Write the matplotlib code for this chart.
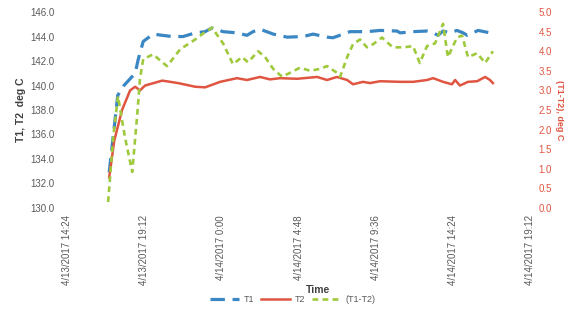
import matplotlib
matplotlib.use("Agg")
import matplotlib.pyplot as plt
import pandas as pd

plt.rcParams["font.family"] = ["Liberation Sans", "DejaVu Sans"]

# T1 readings (deg C)
t1_times = [
    "2017-04-13 17:01", "2017-04-13 17:33", "2017-04-13 17:56", "2017-04-13 18:38",
    "2017-04-13 18:49", "2017-04-13 19:08", "2017-04-13 19:45", "2017-04-13 20:19",
    "2017-04-13 20:56", "2017-04-13 21:37", "2017-04-13 22:22", "2017-04-13 22:59",
    "2017-04-13 23:25", "2017-04-14 00:06", "2017-04-14 00:58", "2017-04-14 01:35",
    "2017-04-14 01:58", "2017-04-14 02:24", "2017-04-14 03:13", "2017-04-14 04:05",
    "2017-04-14 05:05", "2017-04-14 05:42", "2017-04-14 06:34", "2017-04-14 06:56",
    "2017-04-14 08:00", "2017-04-14 09:03", "2017-04-14 09:52", "2017-04-14 10:55",
    "2017-04-14 11:07", "2017-04-14 11:55", "2017-04-14 12:47", "2017-04-14 13:10",
    "2017-04-14 13:28", "2017-04-14 13:47", "2017-04-14 14:13", "2017-04-14 14:39",
    "2017-04-14 15:02", "2017-04-14 15:17", "2017-04-14 15:58", "2017-04-14 16:42",
    "2017-04-14 16:53",
]
t1_values = [
    132.9, 139.2, 140.0, 141.0, 142.1, 143.6, 144.2, 144.1,
    144.0, 144.0, 144.3, 144.4, 144.7, 144.4, 144.3, 144.1,
    144.4, 144.6, 144.2, 143.95, 144.0, 144.2, 143.95, 143.9,
    144.4, 144.4, 144.5, 144.45, 144.3, 144.4, 144.45, 144.3,
    144.1, 144.45, 144.3, 144.5, 144.3, 144.1, 144.5, 144.3,
    144.25,
]

# T2 readings (deg C)
t2_times = [
    "2017-04-13 17:01", "2017-04-13 17:20", "2017-04-13 17:49", "2017-04-13 18:19",
    "2017-04-13 18:38", "2017-04-13 18:56", "2017-04-13 19:15", "2017-04-13 20:19",
    "2017-04-13 21:18", "2017-04-13 22:22", "2017-04-13 22:59", "2017-04-13 23:55",
    "2017-04-14 00:58", "2017-04-14 01:35", "2017-04-14 02:24", "2017-04-14 03:01",
    "2017-04-14 03:39", "2017-04-14 04:42", "2017-04-14 05:57", "2017-04-14 06:34",
    "2017-04-14 07:11", "2017-04-14 07:49", "2017-04-14 08:11", "2017-04-14 08:48",
    "2017-04-14 09:14", "2017-04-14 09:52", "2017-04-14 11:07", "2017-04-14 11:55",
    "2017-04-14 12:47", "2017-04-14 13:10", "2017-04-14 13:47", "2017-04-14 14:20",
    "2017-04-14 14:32", "2017-04-14 14:50", "2017-04-14 15:20", "2017-04-14 15:54",
    "2017-04-14 16:24", "2017-04-14 16:42", "2017-04-14 16:53",
]
t2_values = [
    132.5, 135.5, 138.0, 139.6, 139.9, 139.6, 140.0, 140.4,
    140.2, 139.9, 139.85, 140.3, 140.6, 140.45, 140.7, 140.5,
    140.6, 140.55, 140.7, 140.45, 140.7, 140.45, 140.1, 140.3,
    140.2, 140.35, 140.3, 140.3, 140.45, 140.6, 140.3, 140.1,
    140.45, 140.0, 140.3, 140.35, 140.7, 140.45, 140.2,
]

# T1-T2 difference (deg C, right axis)
dt_times = [
    "2017-04-13 16:57", "2017-04-13 17:16", "2017-04-13 17:34", "2017-04-13 18:00",
    "2017-04-13 18:27", "2017-04-13 18:45", "2017-04-13 18:56", "2017-04-13 19:08",
    "2017-04-13 19:45", "2017-04-13 20:19", "2017-04-13 20:37", "2017-04-13 21:26",
    "2017-04-13 22:22", "2017-04-13 22:59", "2017-04-13 23:25", "2017-04-14 00:06",
    "2017-04-14 00:43", "2017-04-14 01:17", "2017-04-14 01:39", "2017-04-14 02:17",
    "2017-04-14 02:43", "2017-04-14 03:13", "2017-04-14 03:46", "2017-04-14 04:16",
    "2017-04-14 04:53", "2017-04-14 05:31", "2017-04-14 06:08", "2017-04-14 06:34",
    "2017-04-14 07:11", "2017-04-14 07:23", "2017-04-14 07:49", "2017-04-14 08:11",
    "2017-04-14 08:37", "2017-04-14 09:03", "2017-04-14 09:26", "2017-04-14 09:59",
    "2017-04-14 10:18", "2017-04-14 10:40", "2017-04-14 11:18", "2017-04-14 11:55",
    "2017-04-14 12:20", "2017-04-14 12:47", "2017-04-14 13:17", "2017-04-14 13:47",
    "2017-04-14 14:05", "2017-04-14 14:39", "2017-04-14 14:58", "2017-04-14 15:20",
    "2017-04-14 15:54", "2017-04-14 16:24", "2017-04-14 16:53",
]
dt_values = [
    0.15, 1.8, 2.85, 1.8, 0.92, 2.33, 3.3, 3.8,
    3.92, 3.72, 3.62, 4.05, 4.3, 4.49, 4.6, 4.2,
    3.67, 3.85, 3.72, 4.0, 3.85, 3.55, 3.35, 3.45,
    3.58, 3.5, 3.55, 3.62, 3.45, 3.35, 3.85, 4.18,
    4.3, 4.1, 4.18, 4.35, 4.23, 4.1, 4.1, 4.13,
    3.7, 4.13, 4.2, 4.7, 3.85, 4.35, 4.4, 3.85,
    3.95, 3.7, 4.0,
]

x_start = pd.Timestamp("2017-04-13 14:24")
x_end = pd.Timestamp("2017-04-14 19:12")
tick_step_minutes = 288

blue = "#3b87c4"
red = "#e05541"
green = "#9fc93c"

fig = plt.figure(figsize=(5.64, 3.09), dpi=100)
ax = fig.add_axes([0.119, 0.327, 0.821, 0.634])
ax2 = ax.twinx()

l1, = ax.plot(pd.to_datetime(t1_times), t1_values, color=blue, lw=2.3,
              dashes=(4.5, 2.4), label="T1")
l2, = ax.plot(pd.to_datetime(t2_times), t2_values, color=red, lw=1.8, label="T2")
l3, = ax2.plot(pd.to_datetime(dt_times), dt_values, color=green, lw=1.9,
               dashes=(2.2, 1.6), label="(T1-T2)")

ax.set_ylim(130, 146)
ax.set_yticks([130 + 2 * i for i in range(9)])
ax.set_yticklabels([f"{130 + 2 * i:.1f}" for i in range(9)])
ax2.set_ylim(0, 5)
ax2.set_yticks([0.5 * i for i in range(11)])
ax2.set_yticklabels([f"{0.5 * i:.1f}" for i in range(11)])

ax.set_xlim(x_start, x_end)
ticks = [x_start + pd.Timedelta(minutes=tick_step_minutes * k) for k in range(7)]
ax.set_xticks(ticks)
ax.set_xticklabels([f"{t.month}/{t.day}/{t.year} {t.hour}:{t.minute:02d}" for t in ticks],
                   rotation=90)

for a in (ax, ax2):
    for s in a.spines.values():
        s.set_visible(False)
    a.tick_params(length=0)

ax.tick_params(axis="y", labelsize=7, labelcolor="#595959", pad=9)
ax.tick_params(axis="x", labelsize=7, labelcolor="#595959", pad=5)
ax2.tick_params(axis="y", labelsize=7, labelcolor=red, pad=6)

ax.set_ylabel("T1, T2  deg C", fontsize=7.5, fontweight="bold", color="#404040", labelpad=3)
ax2.set_ylabel("(T1-T2), deg C", fontsize=6.5, fontweight="bold", color=red,
               rotation=270, labelpad=2, va="bottom")

fig.text(318 / 564, 1 - 290 / 309, "Time", fontsize=7.5, fontweight="bold",
         color="#404040", ha="center", va="center")

fig.legend(handles=[l1, l2, l3], loc="center", bbox_to_anchor=(293 / 564, 1 - 300 / 309),
           ncol=3, frameon=False, fontsize=6.5, handlelength=3.2, columnspacing=0.8,
           handletextpad=0.5, labelcolor="#595959")

fig.savefig("out.png", dpi=100)
